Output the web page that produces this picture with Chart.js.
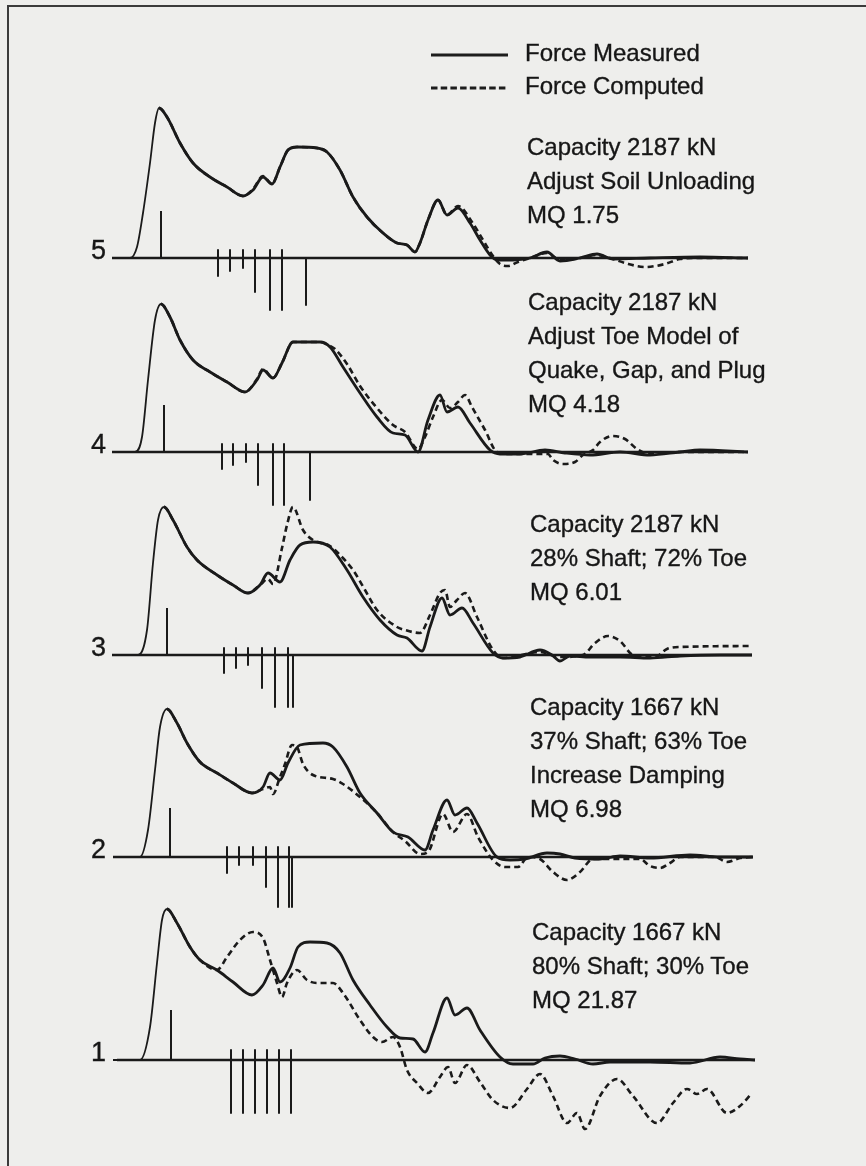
<!DOCTYPE html>
<html>
<head>
<meta charset="utf-8">
<script src="https://cdn.jsdelivr.net/npm/chart.js@4/dist/chart.umd.min.js"></script>
<style>
  body { margin: 0; background: #eeeeec; }
  #wrap { position: relative; width: 866px; height: 1166px; overflow: hidden;
          font-family: "Liberation Sans", Arial, sans-serif; color: #161616;
          -webkit-text-stroke: 0.35px #161616; }
  #frame { position: absolute; left: 7px; top: 5px; width: 900px; height: 1200px;
           border-left: 2px solid #3b3b3b; border-top: 2px solid #3b3b3b; }
  #chart { position: absolute; left: 0; top: 0; }
  #legendLines { position: absolute; left: 0; top: 0; }
  .note { position: absolute; font-size: 24px; line-height: 34px; white-space: nowrap; }
  .legend { position: absolute; left: 525px; top: 36px; font-size: 24px; line-height: 33px; white-space: nowrap; }
  .num { position: absolute; left: 0; width: 106px; text-align: right; font-size: 27px; line-height: 27px; }
</style>
</head>
<body>
<div id="wrap">
  <div id="frame"></div>
  <canvas id="chart" width="866" height="1166"></canvas>

  <svg id="legendLines" width="866" height="120">
    <line x1="431" y1="55" x2="508" y2="55" stroke="#1d1d1d" stroke-width="3"/>
    <line x1="431" y1="88" x2="508" y2="88" stroke="#1d1d1d" stroke-width="3" stroke-dasharray="6.5 3.2"/>
  </svg>
  <div class="legend">Force Measured<br>Force Computed</div>

  <div class="num" style="top:237px">5</div>
  <div class="num" style="top:431px">4</div>
  <div class="num" style="top:634px">3</div>
  <div class="num" style="top:836px">2</div>
  <div class="num" style="top:1039px">1</div>

  <div class="note" style="left:527px; top:130px">Capacity 2187 kN<br>Adjust Soil Unloading<br>MQ 1.75</div>
  <div class="note" style="left:528px; top:285px">Capacity 2187 kN<br>Adjust Toe Model of<br>Quake, Gap, and Plug<br>MQ 4.18</div>
  <div class="note" style="left:530px; top:507px">Capacity 2187 kN<br>28% Shaft; 72% Toe<br>MQ 6.01</div>
  <div class="note" style="left:530px; top:690px">Capacity 1667 kN<br>37% Shaft; 63% Toe<br>Increase Damping<br>MQ 6.98</div>
  <div class="note" style="left:532px; top:915px">Capacity 1667 kN<br>80% Shaft; 30% Toe<br>MQ 21.87</div>
</div>

<script>
// time in ms, force in kN; panels listed top to bottom (runs 5 .. 1)

// ---------------- run 5 ----------------
const measured5 = [[0,0],[1.7,0],[2.4,220],[3.0,900],[3.7,1900],[4.2,2700],[4.6,3000],[5.4,2820],[6.7,2300],[8.0,1900],
  [9.7,1620],[11.4,1420],[13.0,1240],[14.0,1360],[15.0,1620],[15.9,1480],[16.7,1820],[17.5,2160],[18.4,2220],[20.4,2200],
  [21.4,2120],[22.7,1760],[24.0,1220],[25.4,820],[27.0,500],[28.4,300],[29.4,260],[30.2,120],[30.7,300],[31.5,760],
  [32.5,1160],[33.4,860],[34.5,1000],[35.7,700],[36.7,360],[37.7,60],[38.4,-40],[40.0,-40],[41.7,0],[43.4,120],
  [44.7,-60],[46.7,0],[48.4,80],[50.0,-20],[53.7,0],[58.7,20],[63.5,0]];
const computed5 = [[0,0],[1.7,0],[2.4,220],[3.0,900],[3.7,1900],[4.2,2700],[4.6,3000],[5.4,2820],[6.7,2300],[8.0,1900],
  [9.7,1620],[11.4,1420],[13.0,1240],[14.0,1380],[15.0,1640],[15.9,1480],[16.7,1820],[17.5,2160],[18.4,2220],[20.4,2200],
  [21.4,2120],[22.7,1760],[24.0,1220],[25.4,820],[27.0,500],[28.4,300],[29.4,260],[30.2,120],[30.7,300],[31.5,760],
  [32.5,1160],[33.4,860],[34.5,1040],[35.9,720],[37.0,360],[38.0,40],[38.7,-120],[39.5,-160],[40.5,-80],[41.7,0],
  [43.4,100],[44.7,-40],[46.7,0],[48.4,60],[49.7,0],[51.2,-100],[53.2,-180],[55.2,-120],[56.7,-20],[58.7,0],[63.5,0]];

// ---------------- run 4 ----------------
const measured4 = [[0,0],[2.2,0],[2.9,300],[3.5,1440],[4.2,2640],[4.8,2960],[5.7,2700],[6.7,2240],[8.0,1840],[9.7,1600],
  [11.4,1400],[13.2,1200],[14.4,1440],[15.0,1640],[16.0,1480],[16.9,1780],[18.0,2200],[20.7,2200],[21.7,2100],[23.0,1700],
  [24.7,1180],[26.4,700],[28.0,380],[29.2,340],[30.5,0],[31.5,640],[32.7,1140],[33.4,800],[34.5,900],[35.7,580],
  [37.7,40],[38.7,-40],[40.7,-40],[43.2,40],[45.2,-20],[47.7,-60],[50.7,0],[53.7,-60],[56.7,0],[58.7,40],[63.5,0]];
const computed4 = [[0,0],[2.2,0],[2.9,300],[3.5,1440],[4.2,2640],[4.8,2960],[5.7,2700],[6.7,2240],[8.0,1840],[9.7,1600],
  [11.4,1400],[13.2,1200],[14.4,1460],[15.0,1660],[16.0,1480],[16.9,1780],[18.0,2200],[20.7,2200],[21.7,2120],[22.2,2060],
  [23.4,1760],[24.7,1320],[26.4,880],[28.0,540],[29.2,400],[30.5,60],[31.2,300],[32.0,700],[32.9,1040],[33.7,880],
  [34.5,1000],[35.2,1140],[35.9,900],[37.2,440],[38.4,0],[39.7,-40],[43.5,-40],[44.0,-160],[45.0,-240],[46.2,-200],
  [47.0,-60],[48.0,40],[48.7,200],[49.9,320],[51.2,260],[52.4,60],[53.7,-40],[56.7,0],[63.5,0]];

// ---------------- run 3 ----------------
const measured3 = [[0,0],[2.5,0],[3.4,500],[4.0,1840],[4.5,2700],[5.1,2960],[6.0,2700],[7.4,2160],[8.4,1900],[10.4,1600],
  [12.0,1400],[13.5,1240],[14.7,1400],[15.5,1640],[16.7,1460],[17.7,1900],[18.7,2200],[20.0,2260],[21.7,2160],[23.4,1700],
  [25.0,1160],[26.7,700],[28.4,400],[29.4,340],[30.9,80],[31.7,560],[32.9,1140],[33.7,800],[34.9,940],[36.0,640],
  [38.0,40],[39.0,-60],[40.7,-40],[42.7,100],[43.9,0],[44.7,-120],[45.7,-20],[47.7,-40],[50.7,-40],[53.7,-60],
  [56.7,-20],[60.7,0],[63.9,0]];
const computed3 = [[0,0],[2.5,0],[3.4,500],[4.0,1840],[4.5,2700],[5.1,2960],[6.0,2700],[7.4,2160],[8.4,1900],[10.4,1600],
  [12.0,1400],[13.5,1240],[14.7,1400],[15.5,1520],[16.0,1420],[16.9,2140],[17.4,2600],[18.0,2960],[19.0,2500],[20.0,2300],
  [21.7,2180],[22.7,2000],[24.0,1700],[25.2,1300],[26.4,900],[28.4,560],[29.2,500],[30.7,440],[31.7,800],[32.7,1240],
  [33.2,1300],[33.7,960],[34.4,1100],[35.2,1240],[36.4,760],[38.0,100],[39.0,-60],[42.7,60],[44.7,-40],[47.0,0],
  [48.2,240],[49.5,380],[50.7,280],[52.0,0],[54.2,-40],[55.4,120],[56.7,160],[63.9,180]];

// ---------------- run 2 ----------------
const measured2 = [[0,0],[2.7,0],[3.5,540],[4.2,1740],[4.7,2600],[5.4,2960],[6.4,2680],[7.4,2280],[8.7,1900],[10.4,1680],
  [12.0,1480],[13.9,1280],[15.0,1400],[15.7,1680],[16.7,1540],[17.5,1880],[18.7,2240],[21.0,2280],[22.0,2200],[23.4,1800],
  [24.7,1280],[26.4,880],[28.0,500],[29.5,400],[31.2,140],[32.0,540],[33.4,1140],[34.2,840],[35.4,980],[36.4,680],
  [38.4,0],[39.7,-60],[41.2,-40],[43.4,80],[44.7,60],[46.2,-20],[48.7,-40],[50.7,20],[53.7,-20],[57.7,40],[60.7,0],[64.0,0]];
const computed2 = [[0,0],[2.7,0],[3.5,540],[4.2,1740],[4.7,2600],[5.4,2960],[6.4,2680],[7.4,2280],[8.7,1900],[10.4,1680],
  [12.0,1480],[13.9,1280],[15.0,1360],[15.7,1400],[16.0,1260],[16.7,1600],[17.2,1860],[17.9,2240],[18.4,2200],[19.0,1860],
  [20.0,1640],[22.0,1560],[23.0,1460],[24.7,1200],[26.4,880],[28.0,500],[29.2,320],[30.7,60],[31.5,100],[33.0,860],
  [34.0,500],[35.4,860],[36.5,400],[38.0,-60],[39.2,-200],[40.5,-200],[41.5,0],[42.7,-40],[44.0,-300],[45.4,-460],
  [46.7,-300],[48.0,-40],[52.7,-40],[53.7,-180],[54.7,-220],[55.7,-120],[56.7,0],[60.2,0],[61.4,-100],[62.7,-20],[64.0,0]];

// ---------------- run 1 ----------------
const measured1 = [[0,0],[2.7,0],[3.7,660],[4.4,1940],[4.9,2800],[5.4,3020],[6.4,2740],[7.7,2260],[8.7,2000],[10.4,1800],
  [12.0,1560],[13.9,1300],[15.0,1500],[16.0,1840],[16.7,1560],[17.7,1840],[18.5,2260],[19.7,2360],[21.4,2340],[22.7,2140],
  [24.0,1600],[25.7,1100],[27.4,660],[28.7,440],[30.0,420],[31.2,160],[32.0,540],[33.4,1240],[34.2,900],[35.4,1040],
  [36.7,600],[38.7,60],[40.0,-80],[42.0,-80],[43.2,40],[44.7,80],[46.2,20],[48.0,-80],[49.7,-40],[53.7,-40],[57.7,-60],
  [60.7,60],[62.7,20],[64.2,0]];
const computed1 = [[0,0],[2.7,0],[3.7,660],[4.4,1940],[4.9,2800],[5.4,3020],[6.4,2740],[7.7,2260],[8.7,2000],[10.4,1800],
  [11.4,2060],[12.7,2400],[14.0,2560],[15.0,2440],[15.7,2000],[16.4,1540],[16.9,1260],[17.4,1540],[18.4,1800],[19.4,1600],
  [20.4,1540],[22.0,1540],[23.0,1340],[24.7,800],[26.0,460],[26.9,360],[28.0,460],[28.7,260],[29.4,-200],[30.4,-460],
  [31.5,-660],[32.7,-340],[33.5,-140],[34.2,-460],[35.4,-100],[36.7,-440],[38.0,-800],[39.7,-960],[41.4,-580],[42.7,-280],
  [44.0,-720],[45.4,-1260],[46.4,-1060],[47.2,-1380],[48.7,-720],[50.4,-380],[52.0,-720],[54.4,-1260],[56.0,-860],
  [57.4,-580],[58.4,-680],[59.4,-580],[61.4,-1060],[62.7,-920],[63.9,-660]];

const measuredRuns = [measured5, measured4, measured3, measured2, measured1];
const computedRuns = [computed5, computed4, computed3, computed2, computed1];

// record window (ms) drawn as each run's zero line
const recordStart = [-0.1, -0.1, -0.1, 0.0, 0.4];
const recordEnd = [63.5, 63.5, 63.9, 64.0, 64.2];

// impact marker (ms, kN)
const impactTime = [4.8, 5.1, 5.4, 5.7, 5.8];
const impactForce = [940, 940, 940, 980, 1000];

// soil model: segment times (ms), shaft resistance (kN), toe resistance
const segTimes = [
  [10.5, 11.7, 13.0, 14.2, 15.7, 16.9],
  [10.9, 12.0, 13.3, 14.5, 16.0, 17.1],
  [11.1, 12.3, 13.5, 14.9, 16.2, 17.5],
  [11.4, 12.6, 14.0, 15.3, 16.5, 17.6],
  [11.8, 13.0, 14.2, 15.4, 16.6, 17.8]
];
const shaftRes = [
  [360, 260, 200, 680, 1040, 1040],
  [340, 260, 200, 660, 1060, 1060],
  [360, 260, 200, 660, 1040, 1040],
  [320, 160, 160, 600, 1000, 1000],
  [1060, 1060, 1060, 1060, 1060, 1060]
];
const segMark = [160, 160, 140, 200, 200];
const toeTimes = [19.3, 19.7, 18.0, 17.9, null];
const toeRes = [940, 960, 1040, 1000, 0];

// layout: pixel row of every zero line, and drawing scale
const zeroRow = [258, 452, 655, 857, 1060];
const W = 866, H = 1166;
const originPx = 113, pxPerMs = 10, kNPerPx = 20;
const ink = '#1a1a1a';

function toPoints(pairs) {
  return pairs.map(([t, f]) => ({ x: t, y: f }));
}

function stems(times, top, depths) {
  const out = [];
  times.forEach((t, i) => {
    out.push({ x: t, y: top }, { x: t, y: -depths[i] }, { x: t, y: null });
  });
  return out;
}

// the steep first rise is printed with a finer pen
function riseWidth(peakT, thin, thick) {
  return ctx => (ctx.p1.parsed.x <= peakT ? thin : thick);
}

const scales = {
  x: { type: 'linear', display: false, min: -originPx / pxPerMs, max: (W - originPx) / pxPerMs }
};
const datasets = [];

zeroRow.forEach((row, i) => {
  const yId = 'y' + i;
  scales[yId] = { type: 'linear', display: false, min: -(H - row) * kNPerPx, max: row * kNPerPx };

  const common = { yAxisID: yId, borderColor: ink, pointRadius: 0, fill: false, clip: false };
  const peakT = impactTime[i] - 0.2;

  // zero line
  datasets.push({ ...common, data: [{ x: recordStart[i], y: 0 }, { x: recordEnd[i], y: 0 }], borderWidth: 2.6 });
  // computed force (underneath)
  datasets.push({ ...common, data: toPoints(computedRuns[i]), borderWidth: 2.6, borderDash: [6, 4],
                  cubicInterpolationMode: 'monotone',
                  segment: { borderWidth: riseWidth(peakT, 0.01, 2.6) } });
  // measured force
  datasets.push({ ...common, data: toPoints(measuredRuns[i]), borderWidth: 2.8, cubicInterpolationMode: 'monotone',
                  segment: { borderWidth: riseWidth(peakT, 1.8, 2.8) } });
  // impact marker
  datasets.push({ ...common, data: [{ x: impactTime[i], y: 0 }, { x: impactTime[i], y: impactForce[i] }], borderWidth: 2 });
  // shaft segments
  datasets.push({ ...common, data: stems(segTimes[i], segMark[i], shaftRes[i]), borderWidth: 2, spanGaps: false });
  // toe
  if (toeTimes[i] !== null) {
    datasets.push({ ...common, data: stems([toeTimes[i]], 0, [toeRes[i]]), borderWidth: 2, spanGaps: false });
  }
});

new Chart(document.getElementById('chart'), {
  type: 'line',
  data: { datasets },
  options: {
    responsive: false,
    animation: false,
    devicePixelRatio: 1,
    events: [],
    layout: { padding: 0 },
    elements: { line: { tension: 0, borderJoinStyle: 'round' } },
    plugins: { legend: { display: false }, tooltip: { enabled: false } },
    scales
  }
});
</script>
</body>
</html>
